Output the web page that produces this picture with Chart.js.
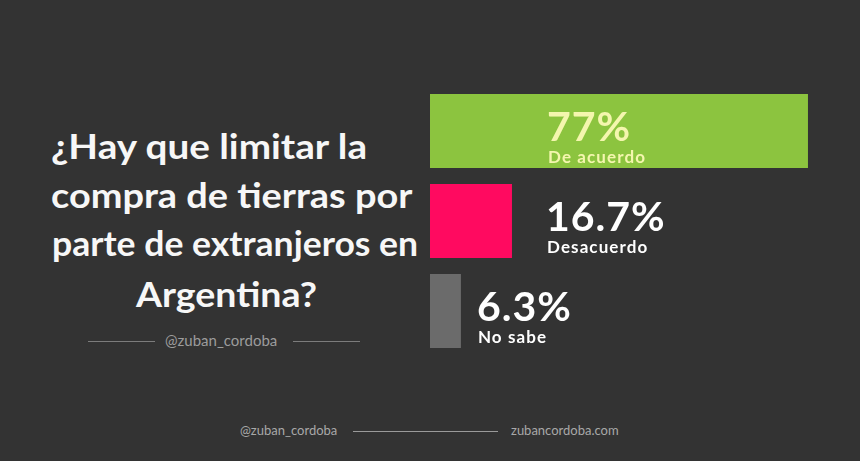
<!DOCTYPE html>
<html>
<head>
<meta charset="utf-8">
<script src="https://cdn.jsdelivr.net/npm/chart.js@4"></script>
<style>
  html, body { margin: 0; padding: 0; }
  body { width: 860px; height: 461px; background: #333333; position: relative; overflow: hidden; font-family: 'Lato', 'DejaVu Sans', sans-serif; }
  .title-line { position: absolute; color: #f7f7f7; font-weight: 700; font-size: 34px; line-height: 1; white-space: nowrap; transform-origin: left top; }
  .handle { position: absolute; color: #9c9c9c; font-size: 15px; line-height: 1; white-space: nowrap; }
  .rule { position: absolute; height: 1px; background: #7c7c7c; }
  .footer { position: absolute; color: #a8a8a8; font-size: 13px; line-height: 1; white-space: nowrap; }
  #chartWrap { position: absolute; left: 430px; top: 86px; width: 430px; height: 270px; }
</style>
</head>
<body>
  <div class="title-line" data-w="316" style="left:51px; top:129px;">¿Hay que limitar la</div>
  <div class="title-line" data-w="361" style="left:51px; top:178px;">compra de tierras por</div>
  <div class="title-line" data-w="366" style="left:52px; top:226px;">parte de extranjeros en</div>
  <div class="title-line" data-w="181" style="left:136px; top:277px;">Argentina?</div>

  <div class="rule" style="left:88px; top:341px; width:67px;"></div>
  <div class="handle" style="left:165px; top:333px;">@zuban_cordoba</div>
  <div class="rule" style="left:293px; top:341px; width:67px;"></div>

  <div class="footer" style="left:240px; top:424px;">@zuban_cordoba</div>
  <div class="rule" style="left:353px; top:431px; width:145px; background:#9a9a9a;"></div>
  <div class="footer" style="left:511px; top:424px;">zubancordoba.com</div>

  <div id="chartWrap"><canvas id="pollChart"></canvas></div>

<script>
const categories = ['De acuerdo', 'Desacuerdo', 'No sabe'];
const shares = [77, 16.7, 6.3];
const valueLabels = ['77%', '16.7%', '6.3%'];

const barColors = ['#8cc43f', '#ff0a60', '#6b6b6b'];

// the original uses a wide geometric face; stretch the title lines to its widths
document.querySelectorAll('.title-line').forEach(el => {
  const target = Number(el.dataset.w);
  el.style.transform = `scaleX(${target / el.offsetWidth})`;
});

// value + category label next to (or inside) each bar
const barLabels = {
  id: 'barLabels',
  afterDatasetsDraw(chart) {
    const { ctx } = chart;
    const bars = chart.getDatasetMeta(0).data;
    const textColors = ['#f4f6ae', '#ffffff', '#ffffff'];
    bars.forEach((bar, i) => {
      const x = i === 0 ? bar.base + 117 : bar.x + (i === 1 ? 34 : 16);
      ctx.save();
      ctx.fillStyle = textColors[i];
      ctx.textAlign = 'left';
      ctx.textBaseline = 'alphabetic';
      ctx.font = "700 41px 'Lato', sans-serif";
      ctx.letterSpacing = '1px';
      ctx.fillText(valueLabels[i], x, bar.y + 10);
      ctx.font = "700 17px 'Lato', sans-serif";
      ctx.letterSpacing = '1.1px';
      ctx.fillText(categories[i], x + 1, bar.y + 32);
      ctx.restore();
    });
  }
};

const canvas = document.getElementById('pollChart');
new Chart(canvas.getContext('2d'), {
  type: 'bar',
  data: {
    labels: categories,
    datasets: [{
      data: shares,
      backgroundColor: barColors,
      borderWidth: 0,
      barPercentage: 0.82,
      categoryPercentage: 1,
    }],
  },
  options: {
    indexAxis: 'y',
    responsive: true,
    maintainAspectRatio: false,
    animation: false,
    layout: { padding: 0 },
    plugins: { legend: { display: false }, tooltip: { enabled: false } },
    scales: {
      x: { display: false, min: 0, max: 87.6 },
      y: { display: false },
    },
  },
  plugins: [barLabels],
});
</script>
</body>
</html>
